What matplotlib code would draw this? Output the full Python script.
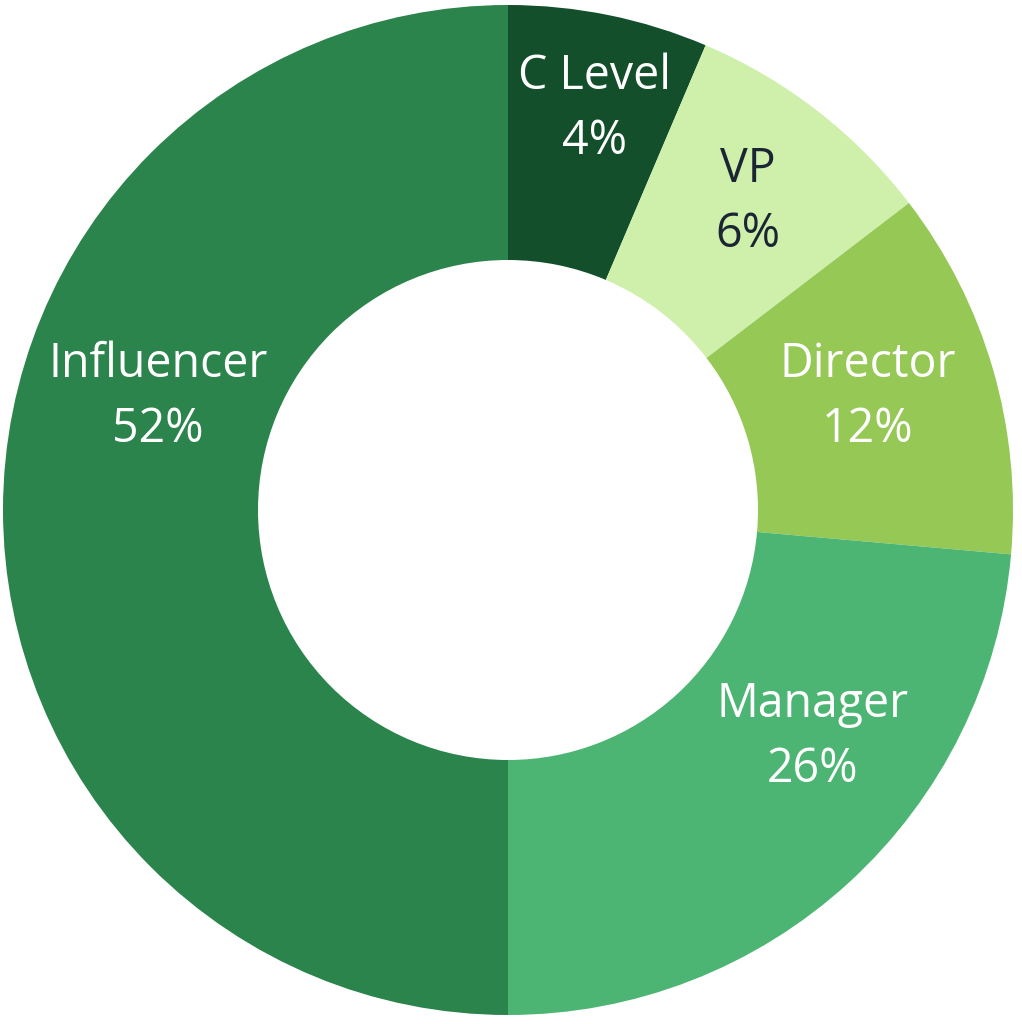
import matplotlib
matplotlib.use("Agg")
import matplotlib.pyplot as plt

categories = ["C Level", "VP", "Director", "Manager", "Influencer"]
slice_values = [6.4, 8.2, 11.8, 23.6, 50.0]
pct_labels = ["4%", "6%", "12%", "26%", "52%"]
colors = ["#134f2b", "#cef0ab", "#96c856", "#4db573", "#2a844c"]
text_colors = ["white", "#1c2533", "white", "white", "white"]
# label anchor positions (pixel offsets from centre, y up)
label_xy = [(87, 401), (240, 308), (360, 113), (305, -227), (-350, 113)]

fig = plt.figure(figsize=(10.22, 10.24), dpi=100)
ax = fig.add_axes([0, 0, 1, 1])

R = 505
ax.pie(slice_values, colors=colors, radius=R, startangle=90, counterclock=False,
       wedgeprops=dict(width=R - 250, linewidth=0), center=(0, 0), frame=True)
ax.set_xlim(-508, 514)
ax.set_ylim(-514, 510)
ax.set_aspect("auto")
ax.axis("off")

for cat, pct, (x, y), tc in zip(categories, pct_labels, label_xy, text_colors):
    ax.text(x, y, cat + "\n" + pct, ha="center", va="center", fontsize=33.5,
            color=tc, family="Open Sans", weight="normal", linespacing=1.48)

fig.savefig("out.png", dpi=100)
